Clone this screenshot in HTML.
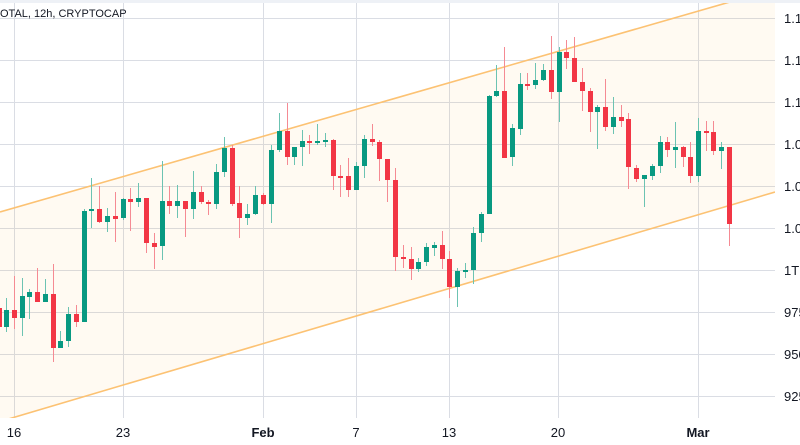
<!DOCTYPE html>
<html><head><meta charset="utf-8"><style>
html,body{margin:0;padding:0;background:#fff;width:800px;height:445px;overflow:hidden}
svg{display:block;font-family:"Liberation Sans",sans-serif}
</style></head><body>
<svg id="c" width="800" height="445" viewBox="0 0 800 445" xmlns="http://www.w3.org/2000/svg">
<rect x="0" y="0" width="800" height="3" fill="#eef1f6"/>
<g stroke="#dadde4" stroke-width="1">
<line x1="0" y1="18.5" x2="775" y2="18.5"/><line x1="0" y1="60.5" x2="775" y2="60.5"/>
<line x1="0" y1="102.5" x2="775" y2="102.5"/><line x1="0" y1="144.5" x2="775" y2="144.5"/>
<line x1="0" y1="186.5" x2="775" y2="186.5"/><line x1="0" y1="228.5" x2="775" y2="228.5"/>
<line x1="0" y1="270.5" x2="775" y2="270.5"/><line x1="0" y1="312.5" x2="775" y2="312.5"/>
<line x1="0" y1="354.5" x2="775" y2="354.5"/><line x1="0" y1="396.5" x2="775" y2="396.5"/>
<line x1="14.5" y1="3" x2="14.5" y2="418"/><line x1="123.5" y1="3" x2="123.5" y2="418"/>
<line x1="263.5" y1="3" x2="263.5" y2="418"/><line x1="356.5" y1="3" x2="356.5" y2="418"/>
<line x1="449.5" y1="3" x2="449.5" y2="418"/><line x1="558.5" y1="3" x2="558.5" y2="418"/>
<line x1="698.5" y1="3" x2="698.5" y2="418"/>
</g>
<defs><clipPath id="cp"><rect x="0" y="3" width="775" height="415"/></clipPath></defs>
<g clip-path="url(#cp)">
<polygon points="0,212 775,-11 775,192 0,421.5" fill="#ff9800" fill-opacity="0.05"/>
<line x1="0" y1="212" x2="775" y2="-11" stroke="#fcc273" stroke-width="1.6"/>
<line x1="0" y1="421.5" x2="775" y2="192" stroke="#fcc273" stroke-width="1.6"/>
<g id="cd"></g>
</g>
<text x="0" y="17" font-size="11" fill="#131722">OTAL, 12h, CRYPTOCAP</text>
<g font-size="13" fill="#131722">
<text x="784" y="23">1.1</text><text x="784" y="65">1.1</text><text x="784" y="107">1.1</text>
<text x="784" y="149">1.0</text><text x="784" y="191">1.0</text><text x="784" y="233">1.0</text>
<text x="784" y="275">1T</text><text x="784" y="317">975</text><text x="784" y="359">950</text><text x="784" y="401">925</text>
</g>
<g font-size="13" fill="#131722" text-anchor="middle">
<text x="14" y="437">16</text><text x="123" y="437">23</text><text x="263" y="437" font-weight="bold">Feb</text>
<text x="356" y="437">7</text><text x="449" y="437">13</text><text x="558" y="437">20</text>
<text x="698" y="437" font-weight="bold">Mar</text>
</g>
</svg>
<script>
var d=[
[-1,'r',308,327,300,332],[6,'g',310,327,298,332],[14,'r',310,318,276,329],[22,'g',296,318,278,336],
[29,'g',292,297,289,319],[37,'r',292,302,268,302],[45,'g',294,302,279,302],[53,'r',294,348,264,362],
[60,'g',341,348,331,348],[68,'g',314,341,307,347],[76,'r',314,322,305,327],[84,'g',211,322,209,322],
[91,'g',209,211,178,228],[99,'r',209,222,186,223],[107,'g',216,222,208,232],[115,'r',216,219,192,242],
[123,'g',199,218,198,220],[130,'r',199,202,188,231],[138,'g',198,202,183,207],[146,'r',198,243,198,253],
[154,'r',243,247,233,269],[162,'g',201,246,161,260],[169,'r',201,206,186,214],[177,'g',201,206,185,218],
[185,'r',201,209,201,237],[193,'g',192,209,171,219],[201,'r',192,202,186,204],[208,'r',202,204,200,215],
[216,'g',172,204,164,209],[224,'g',148,172,137,177],[232,'r',148,204,145,206],[239,'r',203,218,186,238],
[247,'g',214,218,204,225],[255,'g',195,214,186,215],[263,'r',195,204,193,205],[271,'g',150,204,145,223],
[279,'g',131,150,113,152],[287,'r',131,157,103,165],[294,'g',147,157,147,165],[302,'g',141,147,130,166],
[309,'r',141,143,135,154],[317,'g',141,143,124,145],[325,'g',140,142,133,147],[333,'r',140,176,139,190],
[340,'r',176,177,165,197],[348,'r',176,190,158,197],[356,'g',166,190,162,190],[364,'g',139,166,135,178],
[372,'r',139,142,124,146],[379,'r',142,159,140,181],[387,'r',159,180,159,202],[395,'r',180,257,168,271],
[403,'r',257,259,245,268],[411,'r',259,269,247,280],[418,'g',262,269,258,272],[426,'g',247,262,243,266],
[434,'g',245,248,242,256],[442,'r',245,259,231,269],[449,'r',259,287,251,298],[457,'g',271,287,268,307],
[465,'g',270,271,263,278],[473,'g',233,270,227,284],[481,'g',214,233,212,242],[489,'g',96,214,95,214],
[496,'g',91,96,65,97],[504,'r',91,158,47,158],[512,'g',128,157,124,166],[520,'g',84,129,73,135],
[527,'r',84,85,73,90],[535,'g',80,85,63,89],[543,'g',70,80,64,81],[551,'r',70,92,36,99],
[559,'g',52,92,47,122],[566,'r',52,58,40,69],[574,'r',58,82,37,82],[582,'r',82,91,68,111],
[590,'r',91,112,88,132],[597,'g',107,112,105,149],[605,'r',107,127,79,131],[613,'g',117,127,97,134],
[621,'r',117,121,105,127],[628,'r',119,167,113,189],[636,'r',168,179,165,182],[644,'g',175,179,175,207],
[652,'g',166,176,164,180],[660,'g',142,166,136,173],[667,'r',142,150,137,157],[675,'g',147,150,122,168],
[683,'r',147,157,146,167],[690,'r',157,176,142,183],[698,'g',131,176,118,182],[706,'r',131,133,121,151],
[713,'r',132,151,121,155],[721,'g',147,151,142,169],[729,'r',147,224,147,246]];
var s='';
d.forEach(function(c){var col=c[1]=='g'?'#089981':'#f23645';var wc=c[1]=='g'?'#6cc3b2':'#f58a93';
s+='<line x1="'+(c[0]+0.5)+'" x2="'+(c[0]+0.5)+'" y1="'+c[4]+'" y2="'+c[5]+'" stroke="'+wc+'" stroke-width="1"/>';
var h=Math.max(c[3]-c[2],2);
s+='<rect x="'+(c[0]-2)+'" y="'+c[2]+'" width="5" height="'+h+'" fill="'+col+'"/>';});
document.getElementById('cd').innerHTML=s;
</script>
</body></html>
